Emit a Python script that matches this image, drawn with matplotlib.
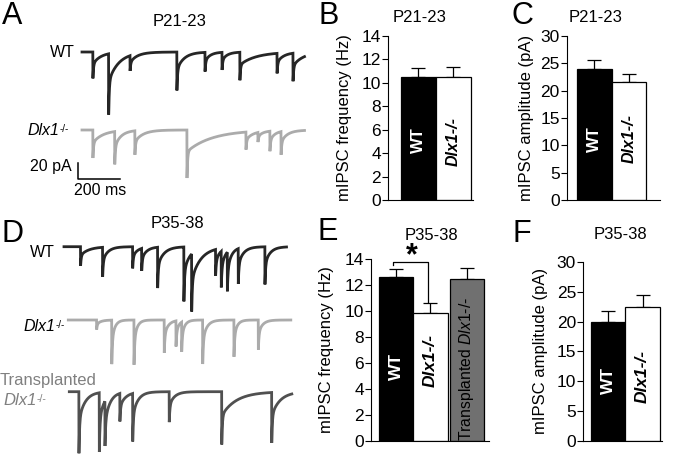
import numpy as np
import matplotlib
matplotlib.use("Agg")
import matplotlib.pyplot as plt

plt.rcParams['font.family'] = ['Liberation Sans', 'DejaVu Sans']
plt.rcParams['mathtext.fontset'] = 'custom'
plt.rcParams['mathtext.rm'] = 'Liberation Sans'
plt.rcParams['mathtext.it'] = 'Liberation Sans:italic'
plt.rcParams['mathtext.bf'] = 'Liberation Sans:bold'

# ---- data: mIPSC events (time ms, amplitude pA, slow decay ms)
a_wt_t = [52, 127, 229, 452, 586, 667, 752, 929, 1005]
a_wt_amp = [33, 76, 19, 48, 24, 22, 35, 25, 35]
a_wt_tau = [40, 50, 30, 35, 25, 25, 80, 30, 50]

a_ko_t = [52, 156, 252, 500, 781, 838, 895, 948]
a_ko_amp = [35, 41, 30, 60, 22, 12, 25, 29]
a_ko_tau = [50, 30, 40, 120, 30, 20, 25, 30]

d_wt_t = [79, 184, 327, 370, 446, 571, 608, 722, 749, 778, 830, 957]
d_wt_amp = [24, 37, 27, 28, 51, 68, 72, 33, 45, 49, 44, 47]
d_wt_tau = [40, 25, 25, 25, 30, 30, 50, 20, 20, 20, 25, 25]

d_ko_t = [135, 207, 313, 457, 513, 540, 640, 789, 905]
d_ko_amp = [12, 55, 56, 41, 32, 37, 55, 46, 37]
d_ko_tau = [20, 15, 15, 20, 15, 15, 20, 15, 20]

d_tr_t = [46, 143, 170, 241, 302, 476, 726, 964]
d_tr_amp = [77, 74, 56, 35, 60, 38, 66, 63]
d_tr_tau = [30, 25, 25, 30, 25, 25, 70, 40]

trace_len = 1060

# ---- data: bar graphs (mean, SEM)
b_labels = ['WT', 'Dlx1-/-']
b_freq = [10.5, 10.5]
b_freq_err = [0.77, 0.82]

c_amp = [24.0, 21.5]
c_amp_err = [1.6, 1.5]

e_labels = ['WT', 'Dlx1-/-', 'Transplanted']
e_freq = [12.6, 9.88, 12.45]
e_freq_err = [0.68, 0.77, 0.85]

f_amp = [20.0, 22.5]
f_amp_err = [1.7, 2.0]

W, H = 674, 457
fig = plt.figure(figsize=(W / 100, H / 100), dpi=100)


def rect(x0, yt, x1, yb):
    return [x0 / W, 1 - yb / H, (x1 - x0) / W, (yb - yt) / H]


def ftext(x, y, s, **kw):
    fig.text(x / W, 1 - y / H, s, **kw)


def ko_label(x_left, base, size=11.5, color='black'):
    # italic gene name with a small raised -/-
    em = size * 100 / 72
    ftext(x_left, base, 'Dlx1', fontsize=size, fontstyle='italic', color=color,
          ha='left', va='baseline')
    ftext(x_left + 2.02 * em, base - 3, '-/-', fontsize=size * 0.62, color=color,
          ha='left', va='baseline')


# ---- traces (left column), 200 ms = 42 px, 20 pA = 16 px
MS_PX = 200 / 42
PA_PX = 20 / 16
tr = fig.add_axes(rect(0, 0, 330, 457))
tr.set_xlim((0 - 82) * MS_PX, (330 - 82) * MS_PX)
tr.set_ylim(-(457 - 52) * PA_PX, 52 * PA_PX)
tr.axis('off')


def draw_trace(times, amps, taus, x_px, y_px, color):
    t = np.arange(0, trace_len, 0.5)
    y = np.zeros_like(t)
    for t0, a, tau in zip(times, amps, taus):
        dt = t - t0
        m = dt >= 0
        y[m] -= a * (0.55 * np.exp(-dt[m] / 3.0) + 0.45 * np.exp(-dt[m] / tau))
    tr.plot(t + (x_px - 82) * MS_PX, y - (y_px - 52) * PA_PX, color=color,
            lw=2.0, solid_joinstyle='miter')


draw_trace(a_wt_t, a_wt_amp, a_wt_tau, 82, 52, '#262626')
draw_trace(a_ko_t, a_ko_amp, a_ko_tau, 82, 130, '#ababab')
draw_trace(d_wt_t, d_wt_amp, d_wt_tau, 64, 246.7, '#262626')
draw_trace(d_ko_t, d_ko_amp, d_ko_tau, 68.3, 320, '#ababab')
draw_trace(d_tr_t, d_tr_amp, d_tr_tau, 69.3, 391.7, '#505050')

# scale bar
sx = (78.3 - 82) * MS_PX
sy = -(179 - 52) * PA_PX
tr.plot([sx, sx, sx + 200], [sy + 20, sy, sy], color='black', lw=1.1)

# ---- bar graphs
def bar_panel(r, xlim, ymax, yticks, vals, errs, colors, pos, ylabel, lab_x):
    ax = fig.add_axes(r)
    ax.bar(pos, vals, width=1, color=colors, edgecolor='black', linewidth=0.9, zorder=2)
    ax.errorbar(pos, vals, yerr=[np.zeros(len(vals)), errs], fmt='none', ecolor='black',
                elinewidth=0.9, capsize=4.7, capthick=0.9, zorder=1)
    ax.set_xlim(*xlim)
    ax.set_ylim(0, ymax)
    ax.set_yticks(yticks)
    ax.set_xticks([])
    for s in ['top', 'right']:
        ax.spines[s].set_visible(False)
    ax.spines['left'].set_linewidth(0.8)
    ax.spines['bottom'].set_linewidth(0.8)
    ax.tick_params(axis='y', length=4, width=0.8, labelsize=12.5, pad=1)
    ax.set_ylabel(ylabel, fontsize=12, va='center')
    ax.yaxis.set_label_coords((lab_x - r[0] * W) / (r[2] * W), 0.5)
    return ax


axB = bar_panel(rect(388, 36, 473, 200), (-0.863, 1.567), 14, range(0, 15, 2),
                b_freq, b_freq_err, ['black', 'white'], [0, 1],
                'mIPSC frequency (Hz)', 345)
axB.text(0, 5.1, b_labels[0], rotation=90, color='white', fontsize=12, fontweight='bold',
         ha='center', va='center')
axB.text(1, 5.0, b_labels[1], rotation=90, color='black', fontsize=11.5, fontweight='bold',
         fontstyle='italic', ha='center', va='center')

axC = bar_panel(rect(566.7, 36, 660, 200), (-0.8, 1.9), 30, range(0, 31, 5),
                c_amp, c_amp_err, ['black', 'white'], [0, 1],
                'mIPSC amplitude (pA)', 526)
axC.text(0, 11.2, b_labels[0], rotation=90, color='white', fontsize=12, fontweight='bold',
         ha='center', va='center')
axC.text(1, 11.3, b_labels[1], rotation=90, color='black', fontsize=11.5, fontweight='bold',
         fontstyle='italic', ha='center', va='center')

axE = bar_panel(rect(370.7, 259.3, 489, 440.7), (-0.74, 2.71), 14, range(0, 15, 2),
                e_freq, e_freq_err, ['black', 'white', '#707070'], [0, 1, 2.06],
                'mIPSC frequency (Hz)', 326)
axE.text(0, 5.7, e_labels[0], rotation=90, color='white', fontsize=12.5, fontweight='bold',
         ha='center', va='center')
axE.text(1, 6.2, e_labels[1], rotation=90, color='black', fontsize=12.5, fontweight='bold',
         fontstyle='italic', ha='center', va='center')
axE.text(2.06, 5.53, e_labels[2] + r' $\mathit{Dlx1}$-/-', rotation=90, color='black',
         fontsize=11.3, ha='center', va='center')
# significance bracket
axE.plot([-0.083, -0.083, 0.937, 0.937], [13.56, 13.81, 13.81, 10.73], color='black',
         lw=0.9, clip_on=False)
axE.text(0.46, 14.2, '*', fontsize=22, fontweight='bold', ha='center', va='center',
         clip_on=False)

axF = bar_panel(rect(583, 262, 662, 440.7), (-0.73, 1.56), 30, range(0, 31, 5),
                f_amp, f_amp_err, ['black', 'white'], [0, 1],
                'mIPSC amplitude (pA)', 540)
axF.text(0, 10.2, b_labels[0], rotation=90, color='white', fontsize=12.5, fontweight='bold',
         ha='center', va='center')
axF.text(1, 10.7, b_labels[1], rotation=90, color='black', fontsize=12.5, fontweight='bold',
         fontstyle='italic', ha='center', va='center')

# ---- panel letters and titles
for s, x, y in [('A', 12.5, 16.5), ('B', 329, 16.5), ('C', 522, 16.5),
                ('D', 12, 234), ('E', 328, 232), ('F', 522, 234)]:
    ftext(x, y, s, fontsize=22, ha='center', va='center')

for s, x, y in [('P21-23', 180, 21), ('P21-23', 420, 18), ('P21-23', 596, 18),
                ('P35-38', 177.5, 224), ('P35-38', 431.5, 235), ('P35-38', 620, 234.5)]:
    ftext(x, y, s, fontsize=12, ha='center', va='center')

# ---- trace labels
ftext(75, 56.7, 'WT', fontsize=11.5, ha='right', va='baseline')
ko_label(27, 135)
ftext(72, 171, '20 pA', fontsize=11.5, ha='right', va='baseline')
ftext(100, 195, '200 ms', fontsize=11.5, ha='center', va='baseline')
ftext(55, 256.7, 'WT', fontsize=11.5, ha='right', va='baseline')
ko_label(23, 331)
ftext(0, 385, 'Transplanted', fontsize=12, color='#808080', ha='left', va='baseline')
ko_label(3, 405, size=12, color='#808080')

fig.savefig('out.png', dpi=100)
